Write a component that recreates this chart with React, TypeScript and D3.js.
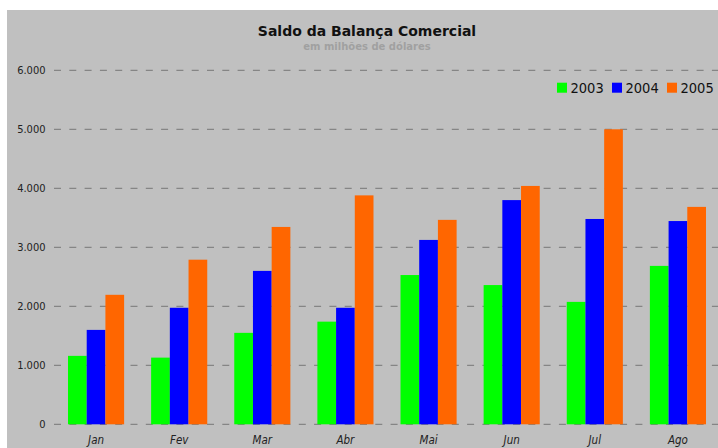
import React from "react";
import * as d3 from "d3";

// Saldo da balança comercial (milhões de US$)
const months = ["Jan", "Fev", "Mar", "Abr", "Mai", "Jun", "Jul", "Ago"];
const years = ["2003", "2004", "2005"];
const values2003 = [1160, 1130, 1550, 1740, 2530, 2360, 2075, 2685];
const values2004 = [1600, 1975, 2600, 1975, 3125, 3800, 3480, 3445];
const values2005 = [2195, 2790, 3345, 3880, 3465, 4040, 5000, 3685];
const yTicks = [0, 1000, 2000, 3000, 4000, 5000, 6000];
const colors = ["#00ff00", "#0000ff", "#ff6600"];

const WIDTH = 718;
const HEIGHT = 448;

const ptBR = d3.formatLocale({
  decimal: ",",
  thousands: ".",
  grouping: [3],
  currency: ["R$", ""],
});
const fmt = ptBR.format(",d");

const FONT = "'DejaVu Sans Condensed', 'DejaVu Sans', sans-serif";
const TITLE_FONT = "'DejaVu Sans', sans-serif";

export default function App() {
  const series = [values2003, values2004, values2005];

  const y = d3.scaleLinear().domain([0, 6000]).range([424.3, 70.3]);
  const x = d3
    .scaleBand<string>()
    .domain(months)
    .range([54.5, 719.5])
    .paddingInner(0.325)
    .paddingOuter(0.1625);
  const xInner = d3
    .scaleBand<string>()
    .domain(years)
    .range([0, x.bandwidth()]);

  return (
    <svg
      width={WIDTH}
      height={HEIGHT}
      style={{ position: "absolute", left: 0, top: 0, background: "#fff" }}
    >
      <rect x={7} y={10} width={WIDTH - 7} height={HEIGHT - 10} fill="#c0c0c0" />

      {/* title */}
      <text
        x={367}
        y={36}
        textAnchor="middle"
        fontFamily={TITLE_FONT}
        fontWeight="bold"
        fontSize={14}
        fill="#111"
      >
        Saldo da Balança Comercial
      </text>
      <text
        x={367}
        y={49.7}
        textAnchor="middle"
        fontFamily={TITLE_FONT}
        fontWeight="bold"
        fontSize={10}
        fill="#a0a0a0"
      >
        em milhões de dólares
      </text>

      {/* grid + y labels */}
      {yTicks.map((t) => (
        <g key={t}>
          <line
            x1={54}
            x2={WIDTH}
            y1={y(t)}
            y2={y(t)}
            stroke="#858585"
            strokeWidth={1.3}
            strokeDasharray="7,8.3"
          />
          <text
            x={45.5}
            y={y(t) + 4}
            textAnchor="end"
            fontFamily={FONT}
            fontSize={11}
            fill="#222"
          >
            {fmt(t)}
          </text>
        </g>
      ))}

      {/* bars */}
      {months.map((m, i) => (
        <g key={m} transform={`translate(${x(m)},0)`}>
          {years.map((yr, j) => (
            <rect
              key={yr}
              x={xInner(yr)}
              y={y(series[j][i])}
              width={xInner.bandwidth()}
              height={y(0) - y(series[j][i])}
              fill={colors[j]}
            />
          ))}
          <text
            x={x.bandwidth() / 2}
            y={444}
            textAnchor="middle"
            fontFamily={FONT}
            fontStyle="italic"
            fontSize={11.5}
            fill="#222"
          >
            {m}
          </text>
        </g>
      ))}

      {/* legend */}
      {years.map((yr, j) => {
        const lx = [557, 612, 667][j];
        return (
          <g key={yr}>
            <rect x={lx} y={82.7} width={10} height={10} fill={colors[j]} />
            <text
              x={lx + 13.5}
              y={92.5}
              fontFamily={FONT}
              fontSize={14.5}
              fill="#111"
            >
              {yr}
            </text>
          </g>
        );
      })}
    </svg>
  );
}
